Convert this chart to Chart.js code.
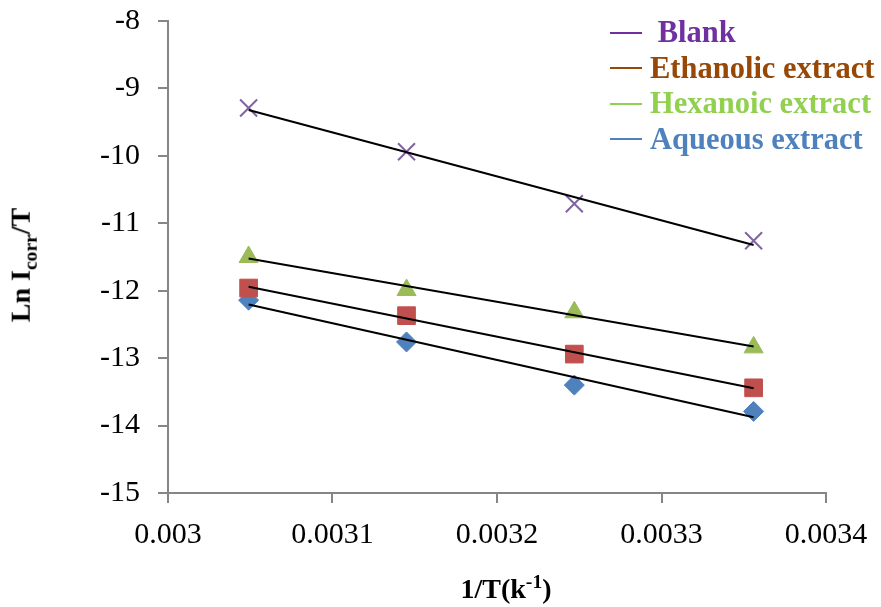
<!DOCTYPE html>
<html>
<head>
<meta charset="utf-8">
<script src="https://cdn.jsdelivr.net/npm/chart.js@4.4.1/dist/chart.umd.min.js"></script>
<style>
  body { margin: 0; background: #fff; }
  #wrap { position: relative; width: 881px; height: 607px; }
  .ttl { position: absolute; font-family: "Liberation Serif", serif; font-weight: bold; font-size: 28px; color: #000; white-space: nowrap; }
  #ytitle { left: 23px; top: 265px; transform: translate(-50%, -50%) rotate(-90deg); }
  #xtitle { left: 506px; top: 588px; transform: translate(-50%, -50%); }
  .ttl sub, .ttl sup { font-size: 70%; }
  #legend { position: absolute; left: 610px; top: 15px; font-family: "Liberation Serif", serif; font-weight: bold; font-size: 30.5px; }
  .legend-item { height: 35.5px; display: flex; align-items: center; white-space: nowrap; }
  .legend-line { width: 32px; height: 2px; margin-right: 8px; }
</style>
</head>
<body>
<div id="wrap">
  <canvas id="chart" width="881" height="607"></canvas>
  <div id="ytitle" class="ttl">Ln I<sub>corr</sub>/T</div>
  <div id="xtitle" class="ttl">1/T(k<sup>-1</sup>)</div>
  <div id="legend"></div>
</div>
<script>
// 1/T values (K^-1)
const invT = [0.003049, 0.003145, 0.003247, 0.003356];

// Ln Icorr/T for each series
const blank = [-9.29, -9.94, -10.71, -11.26];
const ethanolic = [-11.96, -12.37, -12.94, -13.44];
const hexanoic = [-11.5, -11.99, -12.32, -12.84];
const aqueous = [-12.14, -12.76, -13.4, -13.79];

const seriesNames = [" Blank", "Ethanolic extract", "Hexanoic extract", "Aqueous extract"];
const legendColors = ["#7030A0", "#974706", "#92D050", "#4F81BD"];

// least squares fit, drawn between first and last x
function trend(xs, ys) {
  const n = xs.length;
  const mx = xs.reduce((a, b) => a + b, 0) / n;
  const my = ys.reduce((a, b) => a + b, 0) / n;
  let sxy = 0, sxx = 0;
  for (let i = 0; i < n; i++) {
    sxy += (xs[i] - mx) * (ys[i] - my);
    sxx += (xs[i] - mx) * (xs[i] - mx);
  }
  const m = sxy / sxx;
  const b = my - m * mx;
  return [xs[0], xs[n - 1]].map((x) => ({ x: x, y: m * x + b }));
}

function pts(ys) {
  return invT.map((x, i) => ({ x: x, y: ys[i] }));
}

function trendSet(ys) {
  return {
    type: "line",
    data: trend(invT, ys),
    borderColor: "#000",
    borderWidth: 2,
    pointRadius: 0,
    fill: false,
  };
}

const ctx = document.getElementById("chart").getContext("2d");
new Chart(ctx, {
  type: "scatter",
  data: {
    datasets: [
      // trendlines first so they sit on top of the markers
      trendSet(blank),
      trendSet(hexanoic),
      trendSet(ethanolic),
      trendSet(aqueous),
      {
        label: "Blank",
        data: pts(blank),
        pointStyle: "crossRot",
        pointRadius: 12,
        borderColor: "#8064A2",
        borderWidth: 2,
      },
      {
        label: "Hexanoic extract",
        data: pts(hexanoic),
        pointStyle: "triangle",
        pointRadius: 11,
        backgroundColor: "#9BBB59",
        borderColor: "#9BBB59",
        borderWidth: 1,
      },
      {
        label: "Ethanolic extract",
        data: pts(ethanolic),
        pointStyle: "rect",
        pointRadius: 12.5,
        backgroundColor: "#C0504D",
        borderColor: "#C0504D",
        borderWidth: 1,
      },
      {
        label: "Aqueous extract",
        data: pts(aqueous),
        pointStyle: "rectRot",
        pointRadius: 10,
        backgroundColor: "#4F81BD",
        borderColor: "#4F81BD",
        borderWidth: 1,
      },
    ],
  },
  options: {
    responsive: false,
    animation: false,
    layout: { padding: { top: 21, right: 55, left: 0, bottom: 0 } },
    plugins: {
      legend: { display: false },
      tooltip: { enabled: false },
    },
    scales: {
      x: {
        type: "linear",
        min: 0.003,
        max: 0.0034,
        afterFit: (scale) => {
          scale.height = 114;
          scale.paddingLeft = 0;
          scale.paddingRight = 0;
        },
        ticks: {
          stepSize: 0.0001,
          padding: 14,
          color: "#000",
          font: { family: "Liberation Serif", size: 30 },
          callback: (v) => Number(v.toFixed(4)).toString(),
        },
        grid: { drawOnChartArea: false, drawTicks: true, tickLength: 10, color: "#868686", lineWidth: 2 },
        border: { color: "#868686", width: 2 },
      },
      y: {
        min: -15,
        max: -8,
        afterFit: (scale) => {
          scale.width = 168;
          scale.paddingTop = 0;
          scale.paddingBottom = 0;
        },
        ticks: {
          stepSize: 1,
          padding: 18,
          color: "#000",
          font: { family: "Liberation Serif", size: 30 },
        },
        grid: { drawOnChartArea: false, drawTicks: true, tickLength: 10, color: "#868686", lineWidth: 2 },
        border: { color: "#868686", width: 2 },
      },
    },
  },
});

// Custom legend
const legendBox = document.getElementById("legend");
seriesNames.forEach((name, index) => {
  const item = document.createElement("div");
  item.classList.add("legend-item");
  item.innerHTML = `
      <div class="legend-line" style="background-color:${legendColors[index]}"></div>
      <div style="color:${legendColors[index]}">${name.replace(" ", "&nbsp;")}</div>
    `;
  legendBox.appendChild(item);
});
</script>
</body>
</html>
